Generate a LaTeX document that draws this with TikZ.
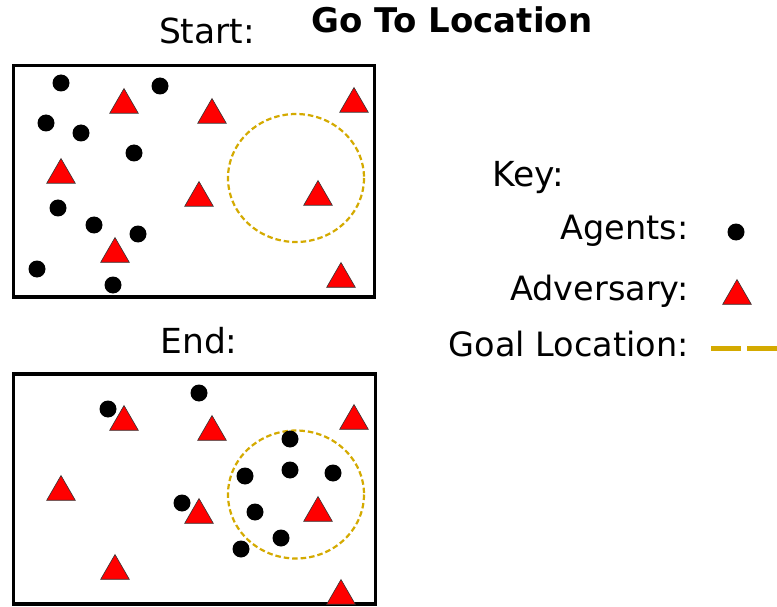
\documentclass[tikz,border=0pt]{standalone}
\usepackage{fontspec}
\setmainfont{DejaVu Sans}
\usetikzlibrary{shapes.geometric}
\definecolor{goalgold}{RGB}{212,170,0}
\definecolor{advred}{RGB}{255,0,0}
\tikzset{
  arena/.style={draw=black, line width=3.6pt, fill=white},
  agent/.style={circle, fill=black, inner sep=0pt, minimum size=17pt},
  adversary/.style={regular polygon, regular polygon sides=3, fill=advred,
    draw=black!80, line width=0.6pt, inner sep=0pt, minimum size=33pt},
  goal/.style={draw=goalgold, line width=2.2pt, dash pattern=on 5.5pt off 3pt},
  heading/.style={font=\fontsize{34.5}{38}\selectfont, anchor=base},
  keylabel/.style={font=\fontsize{33.5}{38}\selectfont, anchor=base east},
  title/.style={font=\bfseries\fontsize{34}{38}\selectfont, anchor=base}
}
\begin{document}
\begin{tikzpicture}[x=1pt, y=-1pt]
\useasboundingbox (0,0) rectangle (777,607);

% titles
\node[title] (title) at (452,33) {Go To Location};
\node[heading] (start) at (207,44) {Start:};
\node[heading] (end) at (199,353) {End:};

% start arena
\draw[arena] (13.5,65.5) rectangle (374.5,297);
\draw[goal] (296,178) ellipse [x radius=68, y radius=64];
\foreach \n/\x/\y in {a1/61/83, a2/160/86, a3/46/123, a4/81/133, a5/134/153,
    a6/58/208, a7/94/225, a8/138/234, a9/37/269, a10/113/285}
  \node[agent] (s\n) at (\x,\y) {};
\foreach \n/\x/\y in {t1/124/105, t2/212/115, t3/354/104, t4/61/175,
    t5/199/198, t6/318/197, t7/115/254, t8/341/279}
  \node[adversary] (s\n) at (\x,\y) {};

% end arena
\draw[arena] (13.5,374) rectangle (375.5,604);
\draw[goal] (296,494.5) ellipse [x radius=68, y radius=64];
\foreach \n/\x/\y in {a1/108/409, a2/199/393, a3/290/439, a4/245/476,
    a5/290/470, a6/333/473, a7/182/503, a8/255/512, a9/281/538, a10/241/549}
  \node[agent] (e\n) at (\x,\y) {};
\foreach \n/\x/\y in {t1/124/422, t2/212/432, t3/354/421, t4/61/492,
    t5/199/515, t6/318/513, t7/115/571, t8/341/596}
  \node[adversary] (e\n) at (\x,\y) {};

% key
\node[heading, anchor=base west] (key) at (489,187) {Key:};
\node[keylabel] (kagents) at (692,239) {Agents:};
\node[keylabel] (kadv) at (692,300) {Adversary:};
\node[keylabel] (kgoal) at (692,356) {Goal Location:};
\node[agent] (kagentsym) at (736,232) {};
\node[adversary] (kadvsym) at (737,296) {};
\coordinate (kg1) at (711,348);
\coordinate (kg2) at (777,348);
\draw[draw=goalgold, line width=5pt, dash pattern=on 30pt off 6pt] (kg1) -- (kg2);
\end{tikzpicture}
\end{document}
